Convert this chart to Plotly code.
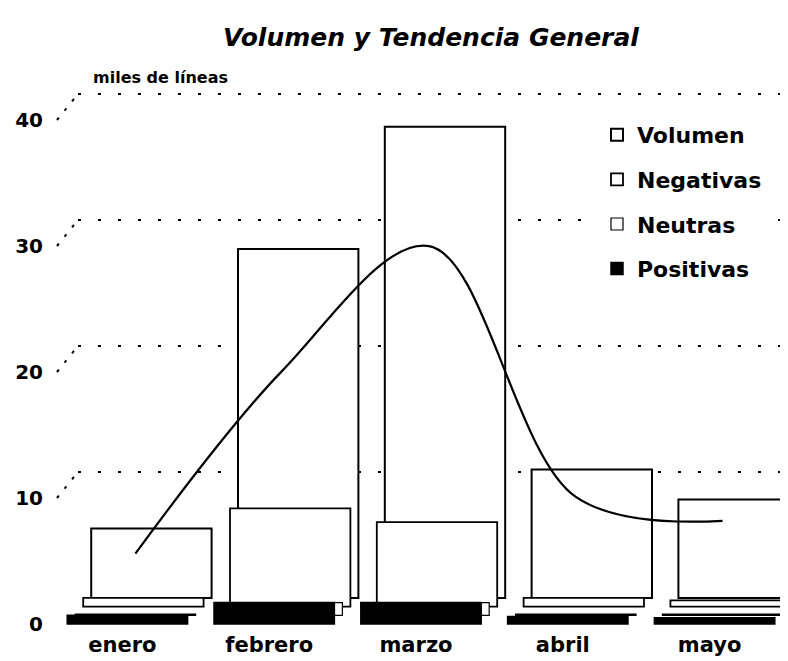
import plotly.graph_objects as go

# ---- data (miles de líneas) ----
meses = ["enero", "febrero", "marzo", "abril", "mayo"]
volumen = [5.5, 27.7, 37.4, 10.2, 7.8]
negativas = [0.7, 7.8, 6.7, 0.7, 0.5]
neutras = [0.1, 1.0, 1.0, 0.1, 0.1]
positivas = [0.7, 1.7, 1.7, 0.6, 0.5]
tendencia = [4.9, 19.4, 29.3, 9.4, 7.5]
y_ticks = [0, 10, 20, 30, 40]

# ---- pseudo-3D layout parameters (page has an 8px body margin) ----
OFF = 8
W, H = 788 - OFF, 661 - OFF
ML, MR, MT = 54 - OFF, 0, 80 - OFF
plot_bottom = 630 - OFF
MB = H - plot_bottom
PW, PH = W - ML - MR, plot_bottom - MT
PX_PER_CAT = PW / 5.0
PX_PER_UNIT = 12.6
FRONT_BASE_PX = 624 - OFF
DX_PX, DY_PX = 8.0, 8.7           # shift per depth layer

def xr(k):
    s = k * DX_PX / PX_PER_CAT
    return [-0.5 - s, 4.5 - s]

def yr(k):
    lo = (FRONT_BASE_PX - k * DY_PX - plot_bottom) / PX_PER_UNIT
    hi = (FRONT_BASE_PX - k * DY_PX - MT) / PX_PER_UNIT
    return [lo, hi]

FONT = "DejaVu Sans"
BAR_W = 0.82

fig = go.Figure()
# layer 3 (back): Volumen on x/y
fig.add_trace(go.Bar(x=meses, y=volumen, name="Volumen", width=BAR_W,
                     marker=dict(color="white", line=dict(color="black", width=2)),
                     xaxis="x", yaxis="y", legendgroup="a"))
# layer 2: Negativas
fig.add_trace(go.Bar(x=meses, y=negativas, name="Negativas", width=BAR_W,
                     marker=dict(color="white", line=dict(color="black", width=1.8)),
                     xaxis="x2", yaxis="y2", legendgroup="b"))
# layer 1: Neutras + tendencia
fig.add_trace(go.Bar(x=meses, y=neutras, name="Neutras", width=BAR_W,
                     marker=dict(color="white", line=dict(color="black", width=1.2)),
                     xaxis="x3", yaxis="y3", legendgroup="c"))
fig.add_trace(go.Scatter(x=meses, y=tendencia, mode="lines", name="Tendencia",
                         line=dict(color="black", width=2.2, shape="spline", smoothing=1.0),
                         xaxis="x3", yaxis="y3", showlegend=False, hoverinfo="skip"))
# layer 0 (front): Positivas
fig.add_trace(go.Bar(x=meses, y=positivas, name="Positivas", width=BAR_W,
                     marker=dict(color="black", line=dict(color="black", width=1.5)),
                     xaxis="x4", yaxis="y4", legendgroup="d"))

hidden = dict(showgrid=False, zeroline=False, showline=False, showticklabels=False, ticks="")
layers = {"": 3, "2": 2, "3": 1, "4": 0}
lay = {}
for suf, k in layers.items():
    xa = dict(hidden, range=xr(k), domain=[0, 1], anchor="y" + suf, type="category",
              categoryorder="array", categoryarray=meses)
    ya = dict(hidden, range=yr(k), domain=[0, 1], anchor="x" + suf)
    if suf:
        xa["overlaying"] = "x"
        ya["overlaying"] = "y"
    lay["xaxis" + suf] = xa
    lay["yaxis" + suf] = ya

# front axis shows the labels
lay["xaxis4"].update(showticklabels=True, ticklabelshift=-5,
                     tickfont=dict(family=FONT, size=21, color="black", weight="bold"))
lay["yaxis4"].update(showticklabels=True, tickvals=y_ticks, ticklabelstandoff=10,
                     tickfont=dict(family=FONT, size=20, color="black", weight="bold"))

# dotted back-wall gridlines with slanted connectors to the front labels
shift_units = 3 * DY_PX / PX_PER_UNIT
x_back_start = 24 / PW
x_front = 3 / PW
shapes = []
for v in y_ticks[1:]:
    shapes.append(dict(type="line", xref="paper", yref="y", layer="below",
                       x0=x_back_start, x1=1, y0=v, y1=v,
                       line=dict(color="black", width=2, dash="3px,17px")))
    shapes.append(dict(type="line", xref="paper", yref="y", layer="below",
                       x0=x_front, x1=x_back_start, y0=v - shift_units, y1=v,
                       line=dict(color="black", width=2, dash="3px,9px")))

fig.update_layout(
    width=W, height=H,
    margin=dict(l=ML, r=MR, t=MT, b=MB),
    paper_bgcolor="white", plot_bgcolor="white",
    barmode="overlay",
    title=dict(text="<b><i>Volumen y Tendencia General</i></b>",
               x=(431 - OFF) / W, xref="container", xanchor="center",
               y=1 - (37 - OFF) / H, yref="container", yanchor="middle",
               font=dict(family=FONT, size=25, color="black")),
    legend=dict(x=(597 - OFF - ML) / PW, y=(plot_bottom - (114 - OFF)) / PH,
                xanchor="left", yanchor="top", bgcolor="white",
                font=dict(family=FONT, size=22, color="black", weight="bold"),
                tracegroupgap=13, traceorder="grouped"),
    annotations=[dict(text="<b>miles de líneas</b>", xref="paper", yref="paper",
                      x=(160 - OFF - ML) / PW, y=(plot_bottom - (78 - OFF)) / PH,
                      xanchor="center", yanchor="middle", showarrow=False,
                      font=dict(family=FONT, size=16, color="black"))],
    shapes=shapes,
    showlegend=True,
    **lay,
)

fig.write_html("out.html")
